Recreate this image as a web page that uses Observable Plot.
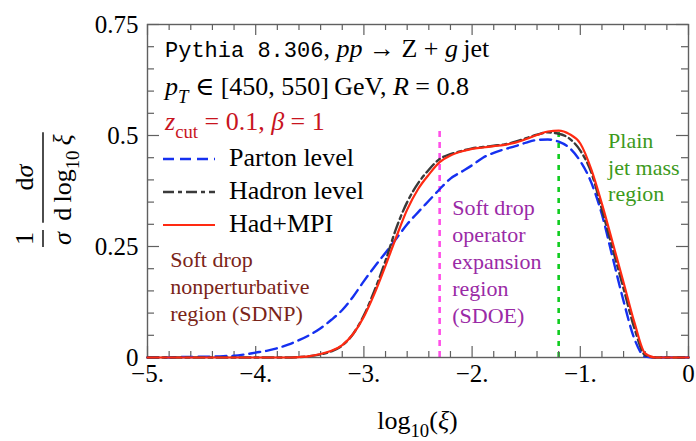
<!DOCTYPE html>
<html>
<head>
<meta charset="utf-8">
<script src="https://cdn.jsdelivr.net/npm/d3@7"></script>
<script src="https://cdn.jsdelivr.net/npm/@observablehq/plot@0.6"></script>
<style>
  html, body { margin: 0; padding: 0; background: #fff; }
  #chart svg { display: block; }
</style>
</head>
<body>
<div id="chart"></div>
<script>
// log10(xi) sample points
const logXi = [
  -5.0, -4.9, -4.8, -4.7, -4.6, -4.5, -4.4, -4.3, -4.2, -4.1,
  -4.0, -3.9, -3.8, -3.7, -3.6, -3.5, -3.4, -3.3, -3.2, -3.1,
  -3.0, -2.9, -2.8, -2.7, -2.6, -2.5, -2.4, -2.3, -2.2, -2.1,
  -2.0, -1.9, -1.8, -1.7, -1.6, -1.5, -1.4, -1.3, -1.2, -1.1,
  -1.0, -0.9, -0.8, -0.7, -0.6, -0.5, -0.4, -0.3, -0.2, -0.1, 0.0
];

// 1/sigma dsigma/dlog10(xi) per level
const parton = [
  0.000, 0.000, 0.000, 0.001, 0.001, 0.002, 0.002, 0.003, 0.004, 0.007,
  0.011, 0.015, 0.021, 0.029, 0.039, 0.051, 0.066, 0.085, 0.107, 0.137,
  0.172, 0.205, 0.236, 0.268, 0.300, 0.327, 0.353, 0.379, 0.403, 0.418,
  0.433, 0.450, 0.461, 0.469, 0.476, 0.484, 0.490, 0.491, 0.486, 0.472,
  0.442, 0.395, 0.322, 0.224, 0.127, 0.042, 0.002, 0.000, 0.000, 0.000, 0.000
];
const hadron = [
  0.000, 0.000, 0.000, 0.000, 0.000, 0.000, 0.000, 0.000, 0.000, 0.000,
  0.000, 0.000, 0.000, 0.000, 0.001, 0.003, 0.007, 0.014, 0.027, 0.053,
  0.095, 0.152, 0.218, 0.292, 0.350, 0.392, 0.423, 0.447, 0.458, 0.465,
  0.471, 0.474, 0.477, 0.480, 0.486, 0.494, 0.502, 0.507, 0.504, 0.493,
  0.466, 0.418, 0.333, 0.244, 0.155, 0.066, 0.005, 0.000, 0.000, 0.000, 0.000
];
const hadMPI = [
  0.000, 0.000, 0.000, 0.000, 0.000, 0.000, 0.000, 0.000, 0.000, 0.000,
  0.000, 0.000, 0.000, 0.000, 0.001, 0.003, 0.008, 0.015, 0.028, 0.053,
  0.092, 0.145, 0.207, 0.272, 0.333, 0.379, 0.412, 0.440, 0.455, 0.464,
  0.470, 0.473, 0.476, 0.479, 0.484, 0.492, 0.501, 0.509, 0.511, 0.503,
  0.482, 0.425, 0.346, 0.258, 0.169, 0.079, 0.009, 0.000, 0.000, 0.000, 0.000
];

const seriesNames = ["Parton level", "Hadron level", "Had+MPI"];

// axis ticks and labels
const xMajor = [-5, -4, -3, -2, -1, 0];
const xTickLabels = ["\u22125.", "\u22124.", "\u22123.", "\u22122.", "\u22121.", "0"];
const xMinor = [-4.8, -4.6, -4.4, -4.2, -3.8, -3.6, -3.4, -3.2, -2.8, -2.6,
                -2.4, -2.2, -1.8, -1.6, -1.4, -1.2, -0.8, -0.6, -0.4, -0.2];
const yMajor = [0, 0.25, 0.5, 0.75];
const yTickLabels = ["0", "0.25", "0.5", "0.75"];
const yMinor = [0.05, 0.1, 0.15, 0.2, 0.3, 0.35, 0.4, 0.45, 0.55, 0.6, 0.65, 0.7];

// region boundaries in log10(xi), and the region notes
const sdoeStart = [-2.3];
const plainStart = [-1.2];
const regionTop = 0.52;
const noteSDNP = ["Soft drop\nnonperturbative\nregion (SDNP)"];
const noteSDOE = ["Soft drop\noperator\nexpansion\nregion\n(SDOE)"];
const notePlain = ["Plain\njet mass\nregion"];

// ---- layout & styles ----
const W = 696, H = 441, ML = 147, MR = 8, MT = 24, MB = 84;
const FW = W - ML - MR, FH = H - MT - MB;
const SERIF = "'Liberation Serif', 'DejaVu Serif', serif";
const MONO = "'Liberation Mono', 'DejaVu Sans Mono', monospace";
const frameColor = "#606060";
const styles = [
  {stroke: "#1530f0", strokeWidth: 2.4, strokeDasharray: "11,6"},
  {stroke: "#3a3a3a", strokeWidth: 2.4, strokeDasharray: "11,4,4,4"},
  {stroke: "#ff2a12", strokeWidth: 2.2, strokeDasharray: null}
];
const rows = (ys) => logXi.map((x, i) => ({x, y: ys[i]}));
const seriesData = [parton, hadron, hadMPI];

const chart = Plot.plot({
  width: W, height: H,
  marginLeft: ML, marginRight: MR, marginTop: MT, marginBottom: MB,
  x: {domain: [-5, 0], axis: null},
  y: {domain: [0, 0.75], axis: null},
  style: {fontFamily: SERIF, background: "#fff", overflow: "visible", color: "#000"},
  marks: [
    // region boundaries
    Plot.ruleX(sdoeStart, {x: d => d, y1: 0, y2: regionTop, stroke: "#ff4fe8", strokeWidth: 2.6, strokeDasharray: "6,5"}),
    Plot.ruleX(plainStart, {x: d => d, y1: 0, y2: regionTop, stroke: "#10cc20", strokeWidth: 2.6, strokeDasharray: "5,6"}),

    // frame and inward ticks on all four sides
    Plot.frame({stroke: frameColor, strokeWidth: 1.4}),
    Plot.ruleX(xMajor, {x: d => d, insetTop: FH - 11, stroke: frameColor, strokeWidth: 1.2}),
    Plot.ruleX(xMinor, {x: d => d, insetTop: FH - 6, stroke: frameColor, strokeWidth: 1.2}),
    Plot.ruleX(xMajor, {x: d => d, insetBottom: FH - 11, stroke: frameColor, strokeWidth: 1.2}),
    Plot.ruleX(xMinor, {x: d => d, insetBottom: FH - 6, stroke: frameColor, strokeWidth: 1.2}),
    Plot.ruleY(yMajor, {y: d => d, insetRight: FW - 12, stroke: frameColor, strokeWidth: 1.2}),
    Plot.ruleY(yMinor, {y: d => d, insetRight: FW - 7, stroke: frameColor, strokeWidth: 1.2}),
    Plot.ruleY(yMajor, {y: d => d, insetLeft: FW - 12, stroke: frameColor, strokeWidth: 1.2}),
    Plot.ruleY(yMinor, {y: d => d, insetLeft: FW - 7, stroke: frameColor, strokeWidth: 1.2}),

    // tick labels
    Plot.text(xMajor, {x: d => d, text: (d, i) => xTickLabels[i], frameAnchor: "bottom", dy: 24, fontSize: 25, fill: "#000", fontFamily: SERIF}),
    Plot.text(yMajor, {y: d => d, text: (d, i) => yTickLabels[i], frameAnchor: "left", textAnchor: "end", dx: -9, fontSize: 25, fill: "#000", fontFamily: SERIF}),

    // distributions
    ...seriesData.map((ys, k) => Plot.line(rows(ys), {x: "x", y: "y", curve: "monotone-x", ...styles[k]})),

    // region notes
    Plot.text(noteSDNP, {x: -4.79, y: 0.2476, text: d => d, textAnchor: "start", lineAnchor: "top", lineHeight: 1.23, fontSize: 22, fill: "#7a2418", fontFamily: SERIF}),
    Plot.text(noteSDOE, {x: -2.184, y: 0.3645, text: d => d, textAnchor: "start", lineAnchor: "top", lineHeight: 1.23, fontSize: 22, fill: "#9a2aa6", fontFamily: SERIF}),
    Plot.text(notePlain, {x: -0.743, y: 0.513, text: d => d, textAnchor: "start", lineAnchor: "top", lineHeight: 1.2, fontSize: 22, fill: "#3c9a1c", fontFamily: SERIF})
  ]
});

document.getElementById("chart").appendChild(chart);

// ---- rich text: header lines, legend, axis titles ----
const svg = d3.select(chart);

function richText(sel, x, y, parts, {size = 26, fill = "#000", anchor = "start"} = {}) {
  const t = sel.append("text")
    .attr("x", x).attr("y", y)
    .attr("font-size", size).attr("fill", fill)
    .attr("font-family", SERIF).attr("text-anchor", anchor)
    .style("white-space", "pre");
  let shift = 0;
  for (const p of parts) {
    const want = p.sub ? size * 0.3 : 0;
    const ts = t.append("tspan").text(p.t);
    if (want !== shift) ts.attr("dy", want - shift);
    shift = want;
    if (p.sub) ts.attr("font-size", size * 0.72);
    if (p.it) ts.attr("font-style", "italic");
    if (p.mono) ts.attr("font-family", MONO).attr("font-size", p.size || size);
  }
  return t;
}

const header = svg.append("g");
richText(header, ML + 18, 57, [
  {t: "Pythia 8.306", mono: true, size: 22},
  {t: ", "}, {t: "pp", it: true}, {t: " \u2192 Z + "}, {t: "g", it: true}, {t: "\u2009jet"}
]);
richText(header, ML + 18, 95, [
  {t: "p", it: true}, {t: "T", it: true, sub: true},
  {t: " \u2208 [450, 550]\u2009GeV, "}, {t: "R", it: true}, {t: " = 0.8"}
]);
richText(header, ML + 18, 130, [
  {t: "z", it: true}, {t: "cut", sub: true}, {t: " = 0.1, "}, {t: "\u03B2", it: true}, {t: " = 1"}
], {fill: "#c8141e"});

// legend
const legend = svg.append("g");
seriesNames.forEach((name, k) => {
  const yLine = MT + 135 + k * 33;
  const s = styles[k];
  legend.append("line")
    .attr("x1", ML + 16).attr("x2", ML + 68)
    .attr("y1", yLine).attr("y2", yLine)
    .attr("stroke", s.stroke).attr("stroke-width", s.strokeWidth)
    .attr("stroke-dasharray", s.strokeDasharray);
  legend.append("text")
    .attr("x", ML + 82).attr("y", yLine + 7)
    .attr("text-anchor", "start")
    .attr("font-family", SERIF).attr("font-size", 26).attr("fill", "#000")
    .text(name);
});

// x axis title
richText(svg, ML + FW / 2, 429, [
  {t: "log"}, {t: "10", sub: true}, {t: "("}, {t: "\u03BE", it: true}, {t: ")"}
], {anchor: "middle"});

// y axis title: (1/sigma) (d sigma / d log10 xi), rotated
const yl = svg.append("g").attr("transform", "translate(43,190) rotate(-90)");
function fraction(cx, num, den) {
  const n = richText(yl, cx, -10, num, {anchor: "middle"});
  const d = richText(yl, cx, 28, den, {anchor: "middle"});
  const w = Math.max(n.node().getComputedTextLength(), d.node().getComputedTextLength()) + 4;
  yl.append("line").attr("x1", cx - w / 2).attr("x2", cx + w / 2)
    .attr("y1", 0).attr("y2", 0).attr("stroke", "#000").attr("stroke-width", 1.4);
}
fraction(-48.5, [{t: "1"}], [{t: "\u03C3", it: true}]);
fraction(12.5, [{t: "d"}, {t: "\u03C3", it: true}],
  [{t: "d\u2009log"}, {t: "10", sub: true}, {t: "\u2009"}, {t: "\u03BE", it: true}]);
</script>
</body>
</html>
